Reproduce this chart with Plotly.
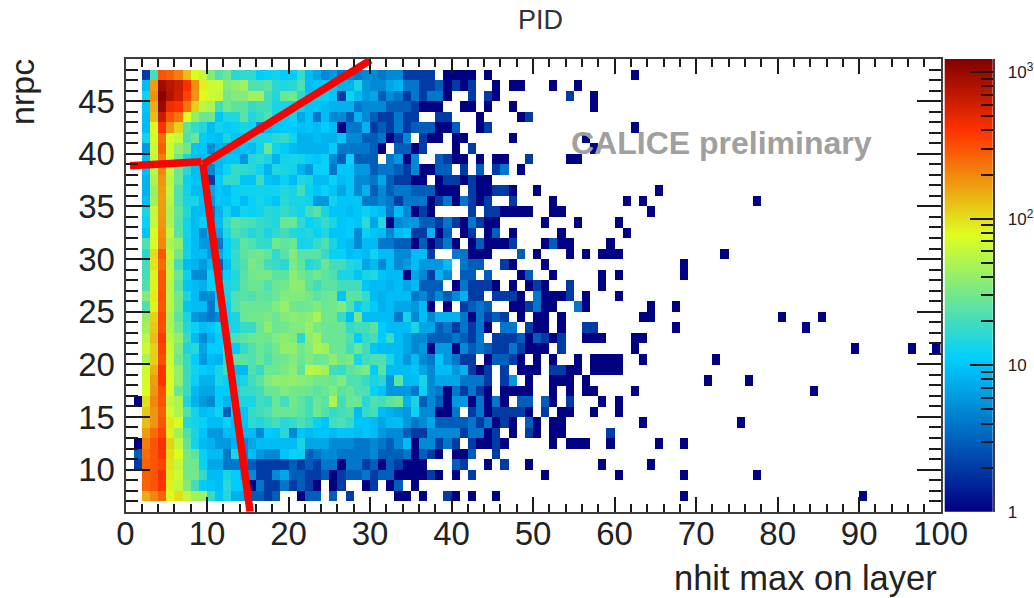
import numpy as np
import plotly.graph_objects as go

# Counts per nrpc row; row_N holds bins nhit = 2..38, far_N holds sparse bins outside that span.
row_47 = [2,20,300,270,220,130,75,60,35,22,28,16,17,17,11,12,13,11,11,18,9,7,5,6,4,5,4,5,5,4,5,5,2,2,2,2,0]
row_46 = [9,170,950,750,650,420,190,85,65,65,35,40,45,22,22,25,16,15,16,22,9,10,11,10,8,8,14,6,5,5,7,8,4,4,2,2,3]
row_45 = [13,190,1150,800,600,350,180,80,65,60,30,35,35,45,45,20,15,28,30,17,10,12,12,10,2,13,9,6,7,3,5,4,2,4,2,4,4]
row_44 = [10,150,1000,450,400,230,110,55,50,20,30,25,25,18,20,20,14,14,13,12,10,10,9,8,8,8,4,5,5,5,3,3,3,2,1,1,1]
row_43 = [9,130,650,300,230,75,40,28,28,10,15,15,25,15,18,22,14,11,13,7,10,4,9,5,5,3,8,5,3,2,2,4,2,2,0,0,2]
row_42 = [9,80,400,180,110,25,18,15,9,13,11,12,14,13,5,9,10,11,11,9,10,9,11,9,1,4,4,8,2,3,2,4,2,3,3,3,1]
row_41 = [13,70,250,70,60,22,28,11,10,9,14,10,10,13,14,14,16,18,13,8,8,9,8,8,10,5,5,3,3,4,1,2,5,0,2,1,1]
row_40 = [6,65,280,65,40,30,10,10,5,8,7,9,10,9,13,28,13,11,9,8,8,8,8,11,4,4,4,4,3,1,0,3,3,1,2,0,0]
row_39 = [9,60,220,70,30,14,10,9,10,9,10,10,6,15,17,14,8,13,14,13,11,10,12,5,3,12,3,3,3,0,4,6,1,5,0,0,3]
row_38 = [9,55,200,60,28,16,9,10,5,9,13,18,17,16,13,8,15,14,13,8,6,12,12,4,10,10,6,6,3,4,4,3,2,5,1,1,3]
row_37 = [8,50,180,55,28,12,10,9,2,11,18,17,10,10,19,10,9,12,9,15,14,9,9,12,9,10,5,5,4,7,3,2,2,1,1,0,1]
row_36 = [8,42,170,60,22,13,9,9,7,10,9,12,13,13,13,13,13,15,14,20,12,10,12,10,7,10,5,8,3,5,3,4,4,3,3,3,1]
row_35 = [9,45,170,55,22,14,14,9,6,10,10,12,9,12,14,12,10,16,14,14,13,6,6,13,10,10,10,4,4,5,4,2,4,4,4,1,2]
row_34 = [14,60,170,50,26,15,9,9,4,8,13,9,13,12,13,16,15,18,15,13,20,24,14,10,10,9,10,12,10,9,4,9,5,1,2,1,0]
row_33 = [12,60,180,50,24,13,9,12,6,9,18,25,22,21,18,17,15,28,28,17,12,14,18,14,10,11,10,17,7,15,1,5,6,6,3,3,2]
row_32 = [10,75,190,60,25,13,9,5,8,7,15,22,19,15,18,14,17,20,15,14,15,12,15,10,10,11,5,12,10,9,5,9,10,2,2,8,1]
row_31 = [22,70,200,50,40,12,9,6,6,4,12,16,26,22,18,17,30,26,28,13,14,18,22,14,10,9,5,9,9,4,4,3,3,1,3,1,2]
row_30 = [16,100,300,60,30,13,9,9,6,7,12,18,25,28,30,26,17,24,35,24,24,24,18,12,12,9,10,9,13,9,9,5,5,9,9,2,0]
row_29 = [20,95,250,55,20,9,8,6,9,3,9,18,22,32,28,20,18,16,33,26,15,18,28,20,20,15,14,7,9,5,9,5,6,9,6,6,6]
row_28 = [20,85,300,60,28,12,5,5,12,5,12,15,24,30,32,32,25,25,38,30,25,30,25,22,14,14,10,14,15,10,9,9,1,7,5,2,8]
row_27 = [22,85,300,55,25,10,9,8,12,12,14,16,25,28,28,22,28,30,38,38,25,20,25,25,20,20,20,10,9,9,8,9,7,9,3,3,3]
row_26 = [35,90,320,55,30,14,9,5,5,11,14,22,24,22,26,25,28,35,34,35,30,25,28,30,10,25,24,18,9,8,9,9,9,4,5,3,5]
row_25 = [22,85,300,55,30,10,9,9,4,13,12,22,28,28,28,28,34,42,30,28,30,35,28,30,34,22,11,15,11,8,9,7,7,6,9,1,0]
row_24 = [40,110,330,50,25,14,6,5,4,5,12,14,28,30,30,33,28,35,38,35,38,48,30,30,18,9,32,9,9,9,9,4,13,5,9,5,8]
row_23 = [45,120,320,50,30,15,12,9,10,13,14,14,18,18,28,38,28,30,34,34,42,32,28,28,28,18,20,20,25,11,9,9,9,14,7,7,3]
row_22 = [55,130,380,55,40,18,9,5,8,11,14,22,25,28,30,28,34,38,34,16,38,45,28,28,28,22,11,18,20,11,18,9,7,5,5,3,3]
row_21 = [65,110,350,65,35,14,16,7,11,11,20,11,18,22,28,25,30,40,40,30,36,48,45,28,28,20,28,20,10,9,9,9,7,5,6,1,6]
row_20 = [50,110,320,65,30,18,11,6,9,8,18,25,25,22,28,22,28,30,34,28,34,28,30,38,28,33,14,20,22,22,14,9,6,9,5,4,10]
row_19 = [65,140,400,70,40,18,13,11,10,14,20,9,9,22,18,28,28,33,38,25,55,52,45,20,18,25,28,33,11,24,9,9,9,10,7,5,9]
row_18 = [70,170,400,75,40,18,12,8,8,14,12,12,14,20,25,34,40,38,40,38,34,30,30,28,34,22,22,18,14,16,6,25,9,9,14,5,7]
row_17 = [75,180,320,75,28,18,9,7,7,11,11,14,18,18,20,28,28,34,30,30,28,25,28,34,25,28,22,22,12,10,6,6,6,4,12,5,4]
row_16 = [100,200,300,60,50,14,8,6,5,11,8,14,14,14,20,18,28,20,30,25,20,28,25,50,20,28,28,16,22,20,25,28,8,14,3,5,3]
row_15 = [120,180,280,70,50,22,13,9,10,13,3,12,10,18,20,22,28,28,28,25,20,30,22,18,20,22,9,18,20,9,8,7,6,12,5,5,1]
row_14 = [130,180,300,90,75,15,13,12,9,9,12,9,10,17,15,18,20,16,18,22,18,12,10,20,22,18,10,10,9,7,9,9,6,4,5,7,3]
row_13 = [170,250,350,85,45,22,14,10,6,6,9,9,9,9,5,11,10,16,5,10,9,10,10,9,10,10,9,10,9,6,5,5,3,2,2,5,5]
row_12 = [220,300,420,110,60,25,13,9,8,6,6,8,5,7,9,9,9,9,9,14,7,7,7,5,5,5,4,4,5,4,3,5,9,1,5,5,2]
row_11 = [250,300,400,100,75,30,25,12,9,9,4,14,5,9,6,5,5,10,12,12,3,4,5,5,4,4,4,4,5,3,3,3,4,1,3,2,1]
row_10 = [270,300,350,95,60,30,30,12,7,7,4,4,4,3,2,2,2,2,3,2,3,2,4,4,1,4,4,2,3,1,3,2,1,1,1,0,0]
row_9 = [280,300,420,90,65,30,30,18,9,9,14,11,8,5,2,2,5,7,3,3,2,2,3,1,2,3,3,4,2,3,3,1,1,1,1,2,1]
row_8 = [270,300,400,85,60,35,20,11,10,9,16,11,10,1,4,2,2,4,2,3,2,1,0,1,2,0,0,1,2,0,1,3,0,1,0,0,0]
row_7 = [150,200,270,80,100,60,45,45,18,10,15,8,7,3,3,2,3,0,0,1,3,3,0,3,0,2,0,0,0,0,0,1,1,0,1,0,0]

far_47 = {39:1,40:1,41:1,42:1,44:1,62:1}
far_46 = {39:1,40:2,41:1,42:2,45:1,47:1,48:1,52:1,55:1}
far_45 = {39:1,42:2,44:2,45:1,54:2,57:1}
far_44 = {41:1,42:1,44:1,47:1,57:1}
far_43 = {39:2,43:1,48:1,49:2}
far_42 = {39:1,40:3,43:1,44:2,62:1}
far_41 = {40:1,41:1,47:1,56:1}
far_40 = {40:1,42:2,57:1}
far_39 = {39:2,40:1,41:1,43:1,45:1,46:1,49:2,54:1,55:1}
far_38 = {39:3,41:2,43:3,45:2,46:4,48:1}
far_37 = {39:2,40:2,41:1,42:2,43:1,44:1}
far_36 = {39:1,40:1,42:2,43:1,44:1,45:2,46:2,47:1,50:1,65:1}
far_35 = {39:4,40:1,41:4,42:2,43:1,44:2,47:2,52:1,61:1,63:1,77:1}
far_34 = {42:2,44:2,45:2,46:1,47:1,48:1,49:1,52:1,53:1,64:1}
far_33 = {39:4,40:2,41:1,42:4,43:2,44:1,45:1,51:1,55:1,60:1}
far_32 = {39:3,41:1,42:2,44:1,45:3,47:1,53:1,61:1}
far_31 = {39:4,40:1,42:1,43:3,44:1,45:1,46:1,47:2,51:1,52:3,53:1,54:1,59:1}
far_30 = {40:4,41:4,42:1,43:1,44:1,48:3,50:1,54:1,56:1,58:1,59:1,60:1,73:1}
far_29 = {39:9,41:4,42:3,43:3,46:2,47:1,51:1,68:1}
far_28 = {39:5,41:3,42:3,44:3,48:1,49:3,52:1,58:1,60:1,68:1}
far_27 = {40:1,41:4,42:2,43:2,44:2,45:1,47:1,49:1,50:2,51:1,54:2,58:1}
far_26 = {39:3,40:5,41:8,42:2,43:2,45:2,46:2,47:2,48:1,50:4,51:1,52:1,53:1,54:2,56:1,60:1}
far_25 = {39:1,41:2,42:3,43:4,44:3,47:1,48:1,49:2,50:4,51:1,52:1,55:4,56:1,64:1,67:1}
far_24 = {39:8,40:8,41:4,42:1,43:4,44:2,45:3,46:2,48:1,50:1,51:1,53:1,63:1,64:1,80:1,85:1}
far_23 = {39:4,40:2,41:4,42:2,43:4,44:1,46:4,47:4,49:2,50:1,51:1,53:1,56:2,57:2,67:1,83:1}
far_22 = {39:3,40:4,41:3,42:2,43:4,45:2,46:2,47:2,48:3,49:1,50:3,51:2,52:1,53:2,56:1,57:1,58:1,62:1,63:1}
far_21 = {39:6,40:1,41:5,42:3,43:4,44:3,45:2,46:2,47:4,48:2,49:1,50:1,51:1,53:2,62:1,89:1,96:1,99:1}
far_20 = {39:6,40:4,41:2,42:2,44:1,45:3,46:3,47:2,48:1,50:1,52:1,55:1,57:1,58:1,59:1,60:1,63:1,72:1}
far_19 = {39:9,40:6,41:8,42:2,43:1,44:2,46:2,48:1,49:1,50:1,52:2,53:2,54:1,55:1,57:1,58:1,59:1,60:1}
far_18 = {39:7,40:7,41:4,42:4,43:4,44:2,46:2,47:6,49:1,52:1,53:1,54:1,56:1,71:1,76:1}
far_17 = {39:1,40:4,41:2,42:4,43:2,44:1,46:1,47:1,48:1,49:1,52:1,54:1,56:1,57:1,62:1,84:1}
far_16 = {1:1,39:1,40:6,41:6,42:1,43:4,44:1,45:4,46:1,48:3,49:3,51:3,52:1,54:2,58:1,60:1}
far_15 = {39:1,40:4,42:2,43:4,44:1,45:2,46:2,47:2,48:2,49:1,51:2,53:1,54:1,57:1,60:1}
far_14 = {39:3,40:3,41:3,42:4,43:2,44:4,45:1,46:2,47:1,49:3,50:1,52:1,53:1,63:1,75:1}
far_13 = {39:5,40:5,41:2,42:4,43:4,44:1,45:2,47:1,49:2,50:1,52:1,53:1,59:2}
far_12 = {1:1,39:4,40:2,42:2,43:1,44:1,45:2,46:1,52:1,54:1,55:1,56:1,59:1,65:1,68:1}
far_11 = {1:3,40:1,41:1,42:3,45:2}
far_10 = {1:2,40:3,41:2,44:1,46:2,49:1,58:1,64:1}
far_9 = {40:1,42:2,51:1,60:1,68:1,77:1}
far_8 = {}
far_7 = {39:2,40:1,42:1,45:1,68:1,90:1}

rows_by_y = {47:(row_47,far_47),46:(row_46,far_46),45:(row_45,far_45),44:(row_44,far_44),43:(row_43,far_43),
             42:(row_42,far_42),41:(row_41,far_41),40:(row_40,far_40),39:(row_39,far_39),38:(row_38,far_38),
             37:(row_37,far_37),36:(row_36,far_36),35:(row_35,far_35),34:(row_34,far_34),33:(row_33,far_33),
             32:(row_32,far_32),31:(row_31,far_31),30:(row_30,far_30),29:(row_29,far_29),28:(row_28,far_28),
             27:(row_27,far_27),26:(row_26,far_26),25:(row_25,far_25),24:(row_24,far_24),23:(row_23,far_23),
             22:(row_22,far_22),21:(row_21,far_21),20:(row_20,far_20),19:(row_19,far_19),18:(row_18,far_18),
             17:(row_17,far_17),16:(row_16,far_16),15:(row_15,far_15),14:(row_14,far_14),13:(row_13,far_13),
             12:(row_12,far_12),11:(row_11,far_11),10:(row_10,far_10),9:(row_9,far_9),8:(row_8,far_8),7:(row_7,far_7)}

# Red selection cuts, in axis units
cut_left_x = [0.55, 9.3]
cut_left_y = [38.87, 39.25]
cut_up_x = [9.5, 30.05]
cut_up_y = [39.0, 48.9]
cut_down_x = [9.5, 15.28]
cut_down_y = [39.0, 6.0]

x_ticks = [0,10,20,30,40,50,60,70,80,90,100]
y_ticks = [10,15,20,25,30,35,40,45]
z_max = 3.09
palette = [[0,"rgb(0,0,130)"],[0.34,"rgb(0,207,255)"],[0.61,"rgb(222,255,31)"],[0.84,"rgb(255,51,0)"],[1,"rgb(130,0,0)"]]

y_edges_low = list(range(6, 49))
x_edges_low = list(range(0, 100))
grid = [[None]*100 for _ in y_edges_low]
for y, (dense, sparse) in rows_by_y.items():
    line = grid[y-6]
    for i, n in enumerate(dense):
        if n > 0:
            line[i+2] = float(np.log10(n))
    for x, n in sparse.items():
        line[x] = float(np.log10(n))

fig = go.Figure()
fig.add_trace(go.Heatmap(x=[v+0.5 for v in x_edges_low], y=[v+0.5 for v in y_edges_low], z=grid,
                         colorscale=palette, zmin=0, zmax=z_max, showscale=False, hoverongaps=False))
for xs, ys in ((cut_left_x,cut_left_y),(cut_up_x,cut_up_y),(cut_down_x,cut_down_y)):
    fig.add_trace(go.Scatter(x=xs, y=ys, mode="lines", line=dict(color="#ff0000", width=7.5),
                             cliponaxis=False, showlegend=False, hoverinfo="skip"))

# Palette strip with its own logarithmic axis
strip = np.linspace(0, z_max, 300)
fig.add_trace(go.Heatmap(x=[0,1], y=strip, z=[[float(v),float(v)] for v in strip], colorscale=palette,
                         zmin=0, zmax=z_max, showscale=False, xaxis="x2", yaxis="y2", hoverinfo="skip"))

W, H = 1034, 598
ink = "#1a1a1a"
frame = "#3c3c3c"
font_main = "Liberation Sans, Arial, sans-serif"
minor_log = [float(np.log10(m*10**d)) for d in range(0,4) for m in range(2,10) if m*10**d <= 10**z_max]

fig.update_layout(
    width=W, height=H, margin=dict(l=0,r=0,t=0,b=0,autoexpand=False), autosize=False,
    paper_bgcolor="white", plot_bgcolor="white", showlegend=False,
    font=dict(family=font_main, color="#222222"),
    xaxis=dict(domain=[125.5/W, 940.7/W], range=[0,100], tickvals=x_ticks, ticks="inside", ticklen=15, tickwidth=1.5,
               automargin=False, tickcolor=ink, showgrid=False, zeroline=False, showline=True, linecolor=frame, linewidth=2,
               mirror="allticks", tickfont=dict(size=33, color="#222222"), ticklabelstandoff=-8,
               minor=dict(dtick=2, ticks="inside", ticklen=8, tickwidth=1.5, tickcolor=ink, showgrid=False)),
    yaxis=dict(domain=[1-511.7/H, 1-59/H], range=[6,49], tickvals=y_ticks, ticks="inside", ticklen=24, tickwidth=1.5,
               automargin=False, tickcolor=ink, showgrid=False, zeroline=False, showline=True, linecolor=frame, linewidth=2,
               mirror="allticks", tickfont=dict(size=33, color="#222222"), ticklabelstandoff=2,
               minor=dict(dtick=1, ticks="inside", ticklen=12, tickwidth=1.5, tickcolor=ink, showgrid=False)),
    xaxis2=dict(domain=[944.7/W, 992.7/W], range=[0,1], anchor="y2", showticklabels=False, ticks="", showgrid=False,
                automargin=False, zeroline=False, showline=False),
    yaxis2=dict(domain=[1-511.7/H, 1-59/H], range=[0,z_max], anchor="x2", side="right", tickmode="array",
                tickvals=[0,1,2,3], ticktext=["1","10","10<sup>2</sup>","10<sup>3</sup>"], ticks="inside", ticklen=23,
                automargin=False, tickwidth=1.5, tickcolor=ink, showgrid=False, zeroline=False, showline=True, linecolor=frame,
                linewidth=1.5, tickfont=dict(size=17, color="#222222"), ticklabelstandoff=10,
                minor=dict(tickmode="array", tickvals=minor_log, ticks="inside", ticklen=12, tickwidth=1.5,
                           tickcolor=ink, showgrid=False)),
    annotations=[
        dict(text="PID", xref="paper", yref="paper", x=540/W, y=1-20/H, showarrow=False, xanchor="center",
             yanchor="middle", font=dict(size=27, color="#333333")),
        dict(text="nhit max on layer", xref="paper", yref="paper", x=939/W, y=1-578/H, showarrow=False,
             xanchor="right", yanchor="middle", font=dict(size=34.5, color="#222222")),
        dict(text="nrpc", xref="paper", yref="paper", x=22/W, y=1-92/H, showarrow=False, textangle=-90,
             xanchor="center", yanchor="middle", font=dict(size=34, color="#222222")),
        dict(text="<b>CALICE preliminary</b>", xref="paper", yref="paper", x=569/W, y=1-143/H, showarrow=False,
             xanchor="left", yanchor="middle", font=dict(size=32, color="#a0a0a0")),
    ],
)

fig.write_html("out.html", post_script="document.body.style.margin='0';", config={"displayModeBar": False})
